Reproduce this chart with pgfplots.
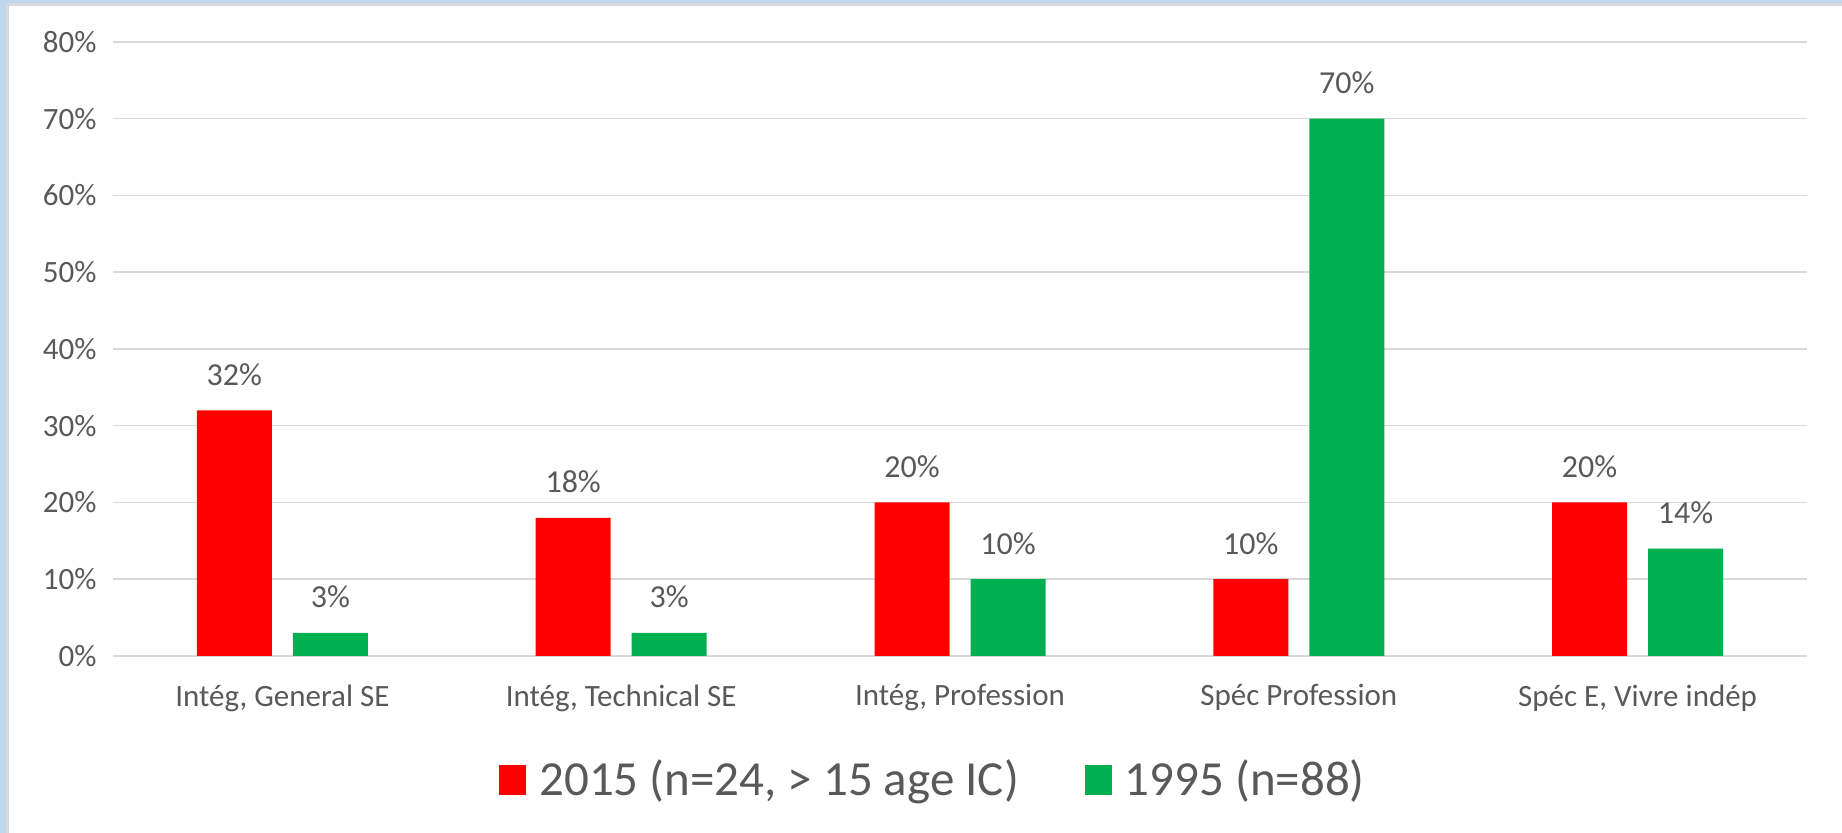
\documentclass[border=0pt]{standalone}
\usepackage{fontspec}
\setmainfont{Carlito}
\usepackage{pgfplots}
\pgfplotsset{compat=1.18}
\definecolor{xred}{HTML}{FF0000}
\definecolor{xgreen}{HTML}{00B050}
\definecolor{txtgray}{HTML}{595959}
\definecolor{gridgray}{HTML}{D9D9D9}
\definecolor{frameblue}{HTML}{BDD7EE}
\newcommand\ticksize{\fontsize{15.5}{18}\selectfont}
\newcommand\valsize{\fontsize{16}{19}\selectfont}
\begin{document}
\begin{tikzpicture}
\path[use as bounding box] (0,0) rectangle (921pt,416.5pt);
\fill[frameblue] (0,0) rectangle (3pt,416.5pt);
\fill[frameblue] (0,415pt) rectangle (921pt,416.5pt);
\fill[gridgray] (3pt,0) rectangle (4.5pt,415pt);
\fill[gridgray] (3pt,413.5pt) rectangle (921pt,415pt);
\begin{axis}[
 at={(56.5pt,88.5pt)}, anchor=south west,
 scale only axis, width=847pt, height=307pt,
 ybar=10.5pt, bar width=37.5pt,
 xmin=-0.5, xmax=4.5, ymin=0, ymax=80,
 xtick={0,1,2,3,4},
 xticklabels={{Intég, General SE},{Intég, Technical SE},{Intég, Profession},{Spéc Profession},{Spéc E, Vivre indép}},
 ytick={0,10,...,80},
 yticklabel={\pgfmathprintnumber{\tick}\%},
 /pgf/number format/assume math mode=true,
 axis line style={draw=none},
 tick style={draw=none},
 ymajorgrids, major grid style={draw=gridgray,line width=0.75pt},
 yticklabel style={font=\ticksize,text=txtgray,xshift=-4.7pt},
 xticklabel style={font=\ticksize,text=txtgray,yshift=-6.5pt},
 nodes near coords={\pgfmathprintnumber{\pgfplotspointmeta}\%},
 every node near coord/.append style={font=\valsize,text=txtgray,anchor=base,yshift=12.5pt},
 legend style={at={(0.4847,-0.2003)}, anchor=center, draw=none,
   font=\fontsize{24.5}{28}\selectfont, text=txtgray,
   /tikz/every even column/.append style={column sep=31pt}},
 legend columns=2,
 legend image code/.code={\fill[#1] (0pt,-8pt) rectangle (13.5pt,7pt); \path (18pt,0pt);},
]
\addplot[fill=xred,draw=none] coordinates {(0,32) (1,18) (2,20) (3,10) (4,20)};
\addlegendentry{2015 (n=24, > 15 age IC)}
\addplot[fill=xgreen,draw=none] coordinates {(0,3) (1,3) (2,10) (3,70) (4,14)};
\addlegendentry{1995 (n=88)}
\end{axis}
\end{tikzpicture}
\end{document}
